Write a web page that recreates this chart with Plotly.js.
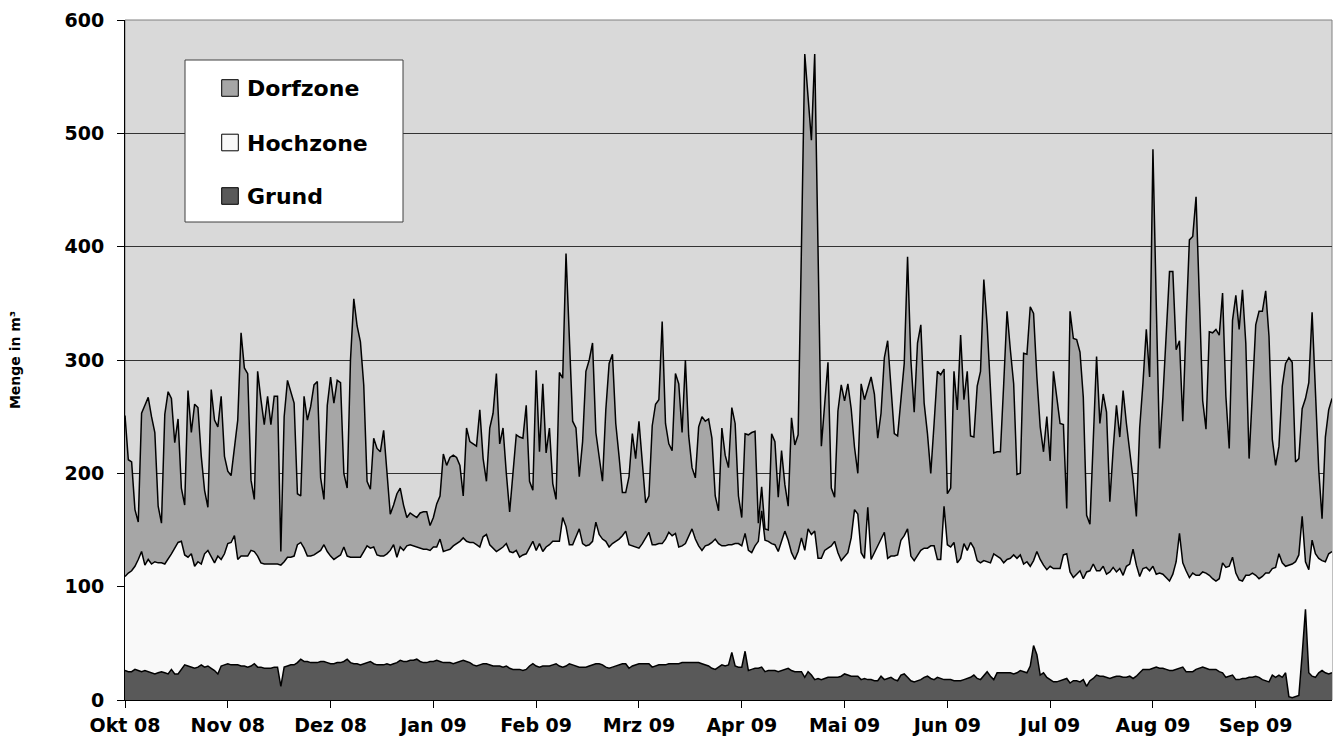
<!DOCTYPE html>
<html>
<head>
<meta charset="utf-8">
<script src="https://cdn.plot.ly/plotly-3.0.1.min.js"></script>
<style>
  html, body { margin: 0; padding: 0; background: #ffffff; }
  #chart { width: 1336px; height: 744px; }
</style>
</head>
<body>
<div id="chart"></div>
<script>
// Tägliche Wassermengen (m³) vom 1. Oktober 2008 bis 30. September 2009
const startYear = 2008, startMonth = 9, startDay = 1;   // 1. Okt 2008 (Monat 0-basiert)
const tickEvery = 31;                                    // Beschriftung alle 31 Tage
const tickLabels = ['Okt 08', 'Nov 08', 'Dez 08', 'Jan 09', 'Feb 09', 'Mrz 09',
                    'Apr 09', 'Mai 09', 'Jun 09', 'Jul 09', 'Aug 09', 'Sep 09'];

const grund = [
  26,25,25,27,26,25,26,25,24,23, 24,25,24,23,27,23,23,27,31,30,
  29,28,29,31,29,30,28,26,23,30, 31,32,31,31,31,30,30,29,30,32,
  29,29,28,28,28,29,29,12,29,30, 31,31,33,36,34,34,33,33,33,34,
  34,33,32,32,33,33,34,36,33,32, 32,31,32,33,34,32,31,31,31,32,
  31,32,33,35,34,34,35,35,36,34, 33,33,34,34,35,34,33,33,33,32,
  33,34,35,34,33,31,30,31,32,32, 31,30,30,30,29,30,28,27,27,27,
  26,27,30,32,30,29,30,30,30,31, 32,30,29,30,32,31,30,29,29,29,
  30,31,32,32,31,29,28,29,30,31, 32,32,28,30,31,32,32,32,32,29,
  30,31,31,31,32,32,32,32,33,33, 33,33,33,33,32,31,30,28,27,29,
  31,30,31,42,30,29,29,43,26,27, 28,28,29,25,26,26,26,25,26,27,
  28,26,25,25,25,20,25,22,18,19, 18,19,20,20,20,20,21,23,22,21,
  21,21,18,19,18,18,17,17,21,18, 19,20,18,17,22,23,20,17,16,17,
  18,20,21,19,18,20,19,18,18,18, 17,17,17,18,19,20,22,19,18,22,
  25,21,18,24,24,24,24,24,23,24, 26,25,24,30,48,40,22,24,20,18,
  16,16,17,18,19,15,17,17,16,18, 12,17,19,22,21,21,20,19,20,21,
  21,20,20,21,19,21,24,27,27,27, 28,29,28,28,27,26,26,27,28,29,
  25,25,25,27,28,29,28,27,27,27, 25,24,20,21,22,18,18,19,19,20,
  20,21,20,18,17,16,22,20,22,20, 24,3,2,3,4,40,80,24,21,20,
  24,26,24,23,24
];

const hochzone = [
  83,87,89,91,98,106,93,99,96,99, 97,96,96,101,102,111,116,113,97,96,
  100,90,93,89,100,102,99,95,104,94, 98,106,108,114,93,97,97,98,102,99,
  98,92,92,92,92,91,91,107,93,96, 95,96,104,103,100,93,94,95,97,98,
  103,98,95,92,93,95,101,91,93,94, 94,95,99,103,100,103,97,96,96,97,
  101,105,93,100,98,102,102,101,99,100, 100,100,98,101,100,108,98,99,100,104,
  105,106,108,106,106,108,107,104,112,114, 106,104,101,103,106,108,103,103,105,99,
  102,102,105,108,102,109,101,105,107,109, 108,110,132,123,105,106,114,122,109,107,
  107,109,125,114,111,111,107,109,110,111, 113,117,109,106,104,102,106,111,116,108,
  107,107,107,111,116,113,115,103,103,105, 111,118,109,103,100,105,107,111,115,109,
  105,106,106,95,108,109,107,104,106,103, 108,112,138,116,114,112,111,106,114,122,
  113,104,99,106,118,112,126,124,131,106, 107,113,114,116,120,110,102,104,108,122,
  147,143,112,106,152,106,113,118,120,130, 106,107,109,111,119,122,131,110,107,111,
  114,114,113,117,118,104,105,153,119,117, 122,104,108,120,113,119,112,104,103,101,
  97,100,111,103,101,97,100,101,105,101, 102,95,98,88,75,91,102,95,95,100,
  100,100,99,110,110,98,91,94,98,89, 101,97,101,92,93,97,91,94,97,92,
  95,90,98,99,114,98,85,89,90,87, 90,82,84,83,81,79,85,95,119,92,
  89,83,87,83,82,84,84,83,80,78, 82,97,97,97,104,94,88,86,91,90,
  92,89,87,91,95,96,94,97,107,101, 94,116,118,119,124,122,42,91,120,109,
  101,97,98,106,107
];

const dorfzone = [
  142,100,96,50,33,122,141,143,130,114, 50,35,132,148,137,93,109,47,44,147,
  107,143,136,95,56,38,147,126,114,144, 86,64,59,78,123,197,166,161,62,46,
  163,144,123,148,123,148,148,12,128,156, 147,135,45,41,134,120,132,150,151,64,
  40,129,158,138,156,152,65,60,174,228, 204,190,147,57,52,96,94,92,111,71,
  32,35,56,52,40,25,28,27,26,31, 33,33,22,26,38,38,86,75,81,80,
  76,67,37,100,89,87,87,121,69,47, 103,119,157,93,105,62,35,70,102,106,
  103,131,58,45,159,81,148,83,103,51, 37,149,123,241,183,109,96,46,90,154,
  163,175,79,66,51,116,162,167,104,73, 38,34,60,99,78,112,68,31,32,105,
  124,127,196,102,78,75,141,144,100,162, 89,54,54,105,118,110,111,92,38,29,
  104,80,68,121,106,42,25,88,102,106, 101,16,21,10,10,97,91,48,80,41,
  30,119,101,103,257,438,381,348,421,281, 99,129,164,51,39,125,155,137,149,114,
  55,36,149,140,104,161,140,96,112,154, 192,152,108,105,124,152,240,173,131,187,
  199,128,101,64,108,166,163,121,45,52, 151,135,197,127,158,94,98,154,169,248,
  209,158,89,92,94,158,219,184,151,74, 72,186,183,229,218,154,117,100,135,93,
  174,151,128,115,40,230,211,207,193,160, 50,41,107,189,130,152,143,62,104,147,
  116,163,126,98,62,43,131,164,210,171, 368,238,110,156,211,273,267,187,170,125,
  218,298,297,334,245,151,127,215,217,222, 215,238,151,104,209,245,221,257,205,103,
  159,221,236,234,249,209,114,90,95,156, 179,183,178,88,85,95,144,165,201,139,
  78,37,110,127,135
];

// Kalendertage als x-Werte
const days = grund.map((_, i) =>
  new Date(Date.UTC(startYear, startMonth, startDay + i)).toISOString().slice(0, 10));
const tickVals = tickLabels.map((_, k) => days[k * tickEvery]);

// Farben der Flächen
const colors = { Grund: '#595959', Hochzone: '#F9F9F9', Dorfzone: '#A6A6A6' };

const base = {
  x: days, type: 'scatter', mode: 'lines', stackgroup: 'menge',
  line: { color: '#000000', width: 1.5, shape: 'linear' },
  showlegend: false, hoverinfo: 'skip'
};
const traces = [
  Object.assign({}, base, { name: 'Grund',    y: grund,    fillcolor: colors.Grund }),
  Object.assign({}, base, { name: 'Hochzone', y: hochzone, fillcolor: colors.Hochzone }),
  Object.assign({}, base, { name: 'Dorfzone', y: dorfzone, fillcolor: colors.Dorfzone })
];

// Pixel -> Papierkoordinaten des Plotbereichs
const W = 1336, H = 744;
const M = { l: 125, r: 4, t: 20, b: 44 };
const plotL = M.l, plotR = W - M.r, plotT = M.t, plotB = H - M.b;
const px = v => (v - plotL) / (plotR - plotL);
const py = v => (plotB - v) / (plotB - plotT);

// Legende als Kasten mit Farbquadraten
const legendItems = [
  { name: 'Dorfzone', cy: 88 },
  { name: 'Hochzone', cy: 142.5 },
  { name: 'Grund',    cy: 196 }
];
const sw = 8.3;
const shapes = [
  { type: 'rect', xref: 'paper', yref: 'paper', x0: 0, x1: 1, y0: 0, y1: 1,
    line: { color: '#808080', width: 1 }, layer: 'below' },
  { type: 'rect', xref: 'paper', yref: 'paper',
    x0: px(185), x1: px(403), y0: py(222), y1: py(60),
    fillcolor: '#FFFFFF', line: { color: '#404040', width: 1 }, layer: 'above' }
];
const annotations = [];
legendItems.forEach(it => {
  shapes.push({ type: 'rect', xref: 'paper', yref: 'paper',
    x0: px(221.7), x1: px(238.3), y0: py(it.cy + sw), y1: py(it.cy - sw),
    fillcolor: colors[it.name], line: { color: '#000000', width: 1 }, layer: 'above' });
  annotations.push({ xref: 'paper', yref: 'paper', x: px(245), y: py(it.cy + 1),
    xanchor: 'left', yanchor: 'middle', showarrow: false, text: it.name,
    font: { family: 'DejaVu Sans, sans-serif', size: 22, weight: 'bold', color: '#000' } });
});

const tickFont = { family: 'DejaVu Sans, sans-serif', size: 19, weight: 'bold', color: '#000' };

const layout = {
  width: W, height: H, margin: M,
  paper_bgcolor: '#FFFFFF', plot_bgcolor: '#D9D9D9',
  font: { family: 'DejaVu Sans, sans-serif', color: '#000' },
  hovermode: false,
  xaxis: {
    type: 'date', range: [days[0], days[days.length - 1]],
    tickmode: 'array', tickvals: tickVals, ticktext: tickLabels,
    ticks: 'outside', ticklen: 7, tickwidth: 1, tickcolor: '#000',
    showgrid: false, zeroline: false,
    showline: true, linecolor: '#000', linewidth: 1,
    tickfont: tickFont, ticklabelstandoff: 1
  },
  yaxis: {
    range: [0, 600], tick0: 0, dtick: 100,
    ticks: 'outside', ticklen: 7, tickwidth: 1, tickcolor: '#000',
    showgrid: true, gridcolor: '#333333', gridwidth: 1, zeroline: false,
    showline: true, linecolor: '#000', linewidth: 1,
    tickfont: tickFont, ticklabelstandoff: 9,
    title: { text: 'Menge in m³', standoff: 40,
             font: { family: 'DejaVu Sans, sans-serif', size: 14, weight: 'bold', color: '#000' } }
  },
  shapes: shapes,
  annotations: annotations
};

Plotly.newPlot('chart', traces, layout, { staticPlot: true, displayModeBar: false });
</script>
</body>
</html>
